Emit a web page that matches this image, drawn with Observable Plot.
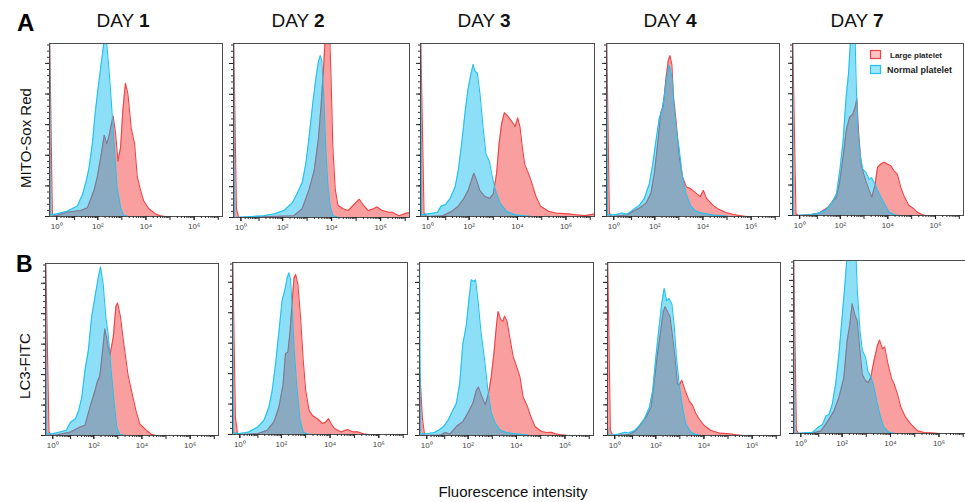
<!DOCTYPE html>
<html><head><meta charset="utf-8">
<script src="https://cdn.jsdelivr.net/npm/d3@7"></script>
<script src="https://cdn.jsdelivr.net/npm/@observablehq/plot@0.6"></script>
<style>
html,body{margin:0;padding:0;background:#fff;}
body{width:965px;height:502px;overflow:hidden;position:relative;font-family:Arial,"Liberation Sans",sans-serif;}
#root{position:absolute;left:0;top:0;width:965px;height:502px;}
</style></head>
<body><div id="root"></div>
<script>
// ---------- texts ----------
const panelLetters = ["A", "B"];
const dayNumbers = ["1", "2", "3", "4", "7"];
const rowLabels = ["MITO-Sox Red", "LC3-FITC"];
const xAxisTitle = "Fluorescence intensity";
const seriesNames = ["Large platelet", "Normal platelet"];
const xLabelValues = [1, 1e2, 1e4, 1e6];
const xLabelText = ["10\u2070", "10\u00B2", "10\u2074", "10\u2076"];

// ---------- data: [log10 intensity, % of panel height] ----------
// Row A (MITO-Sox Red)
const largeA1 = [[-9,110],[-0.5,1],[0,0.5],[0.6,2.5],[1.0,3],[1.28,3.5],[1.56,5],[1.84,15],[1.98,23],[2.12,34],[2.27,47],[2.37,42],[2.46,46],[2.56,53],[2.64,58],[2.74,48],[2.84,32],[2.95,40],[3.04,61],[3.15,77],[3.25,71],[3.39,51],[3.53,42],[3.64,23],[3.78,15],[3.91,9],[4.12,4.5],[4.4,1.5],[4.6,0.4],[4.8,0],[7.3,0]];
const normalA1 = [[-9,110],[-1,1],[0,1.5],[0.64,3],[1.12,6],[1.36,13],[1.5,20],[1.63,28],[1.77,42],[1.9,61],[2.02,75],[2.12,86],[2.25,100],[2.37,100],[2.46,86],[2.56,67],[2.67,44],[2.8,17],[2.95,5],[3.08,0.5],[3.3,0],[7.3,0]];

const largeA2 = [[-9,110],[-0.5,5],[-0.2,0],[2.46,1],[2.8,5],[3.08,16],[3.29,27],[3.46,45],[3.57,64],[3.68,88],[3.73,101],[3.8,130],[3.9,130],[3.93,101],[3.98,79],[4.05,41],[4.15,16],[4.26,7],[4.47,5],[4.67,4],[4.88,7],[5.13,10.5],[5.3,7],[5.5,4],[5.71,5],[5.85,6],[6.06,4],[6.33,3],[6.47,3],[6.75,1],[7.03,2.5],[7.3,3]];
const normalA2 = [[-9,110],[-1,0],[1.2,1],[1.63,2],[2.05,4],[2.4,8.5],[2.6,14],[2.8,20],[2.95,31],[3.08,46],[3.22,64],[3.36,80],[3.47,90],[3.54,93],[3.6,90],[3.68,70],[3.76,40],[3.85,18],[3.95,6],[4.05,1],[4.3,0],[7.3,0]];

const largeA3 = [[-9,110],[-0.4,2],[-0.1,0],[0.86,0.4],[1.27,3],[1.55,6],[1.76,10],[1.96,15],[2.1,21],[2.2,25],[2.31,21],[2.45,15],[2.66,11.5],[2.86,10.5],[3.0,13],[3.14,25],[3.24,42],[3.35,54],[3.46,60],[3.6,58],[3.76,55],[3.9,52],[4.01,57],[4.1,52],[4.2,40],[4.3,30],[4.45,25],[4.6,19],[4.75,12],[4.95,6],[5.28,3],[5.56,2],[6.1,1.5],[6.4,1],[6.8,0.5],[7.1,1.3],[7.3,1.5]];
const normalA3 = [[-9,110],[-1,1],[0,1.5],[0.4,2],[0.6,2.3],[0.79,6],[1.0,7],[1.2,10.5],[1.41,17],[1.55,27],[1.69,42],[1.83,60],[1.96,74],[2.07,82],[2.17,88],[2.24,84],[2.34,83],[2.45,71],[2.59,50],[2.7,36],[2.84,32],[2.93,25],[3.07,16],[3.28,7.7],[3.55,3],[3.9,1],[4.3,0.4],[4.6,0],[7.3,0]];

const largeA4 = [[-9,110],[-0.5,2],[-0.2,0],[0.8,1],[1.08,3],[1.36,5],[1.63,7.7],[1.84,13.5],[1.98,25],[2.12,42],[2.25,60],[2.35,63.5],[2.46,79],[2.56,90],[2.63,93],[2.71,88],[2.78,69],[2.88,56],[3.02,34],[3.15,23],[3.32,17],[3.5,16],[3.71,13.5],[3.89,11.5],[4.02,15],[4.15,10.5],[4.4,6.7],[4.67,4],[4.95,2.3],[5.23,1.3],[5.5,0.6],[5.8,0],[7.3,0]];
const normalA4 = [[-9,110],[-1,1],[0.1,1],[0.53,2],[0.8,1.3],[1.08,4],[1.36,6.7],[1.56,10.5],[1.77,19],[1.91,30],[2.05,44],[2.19,57],[2.3,61.5],[2.39,69],[2.49,79],[2.6,87.5],[2.71,81],[2.81,61.5],[2.9,50],[3.02,38.5],[3.15,23],[3.29,13.5],[3.5,6],[3.71,3],[3.98,2],[4.4,0.8],[4.8,0.4],[5.1,0],[7.3,0]];

const largeA5 = [[-9,110],[-0.4,1],[-0.1,0],[0.66,0.4],[1.08,1.4],[1.5,5],[1.7,8.7],[1.84,10.7],[1.98,20],[2.12,34],[2.25,49],[2.39,57],[2.53,59],[2.63,63],[2.7,68],[2.77,49],[2.88,30],[2.99,24],[3.08,20],[3.22,14.6],[3.33,10.7],[3.46,17.5],[3.57,28],[3.71,30],[3.85,31],[3.98,30],[4.12,29],[4.26,26],[4.4,24],[4.54,16.5],[4.67,11.7],[4.88,6],[5.09,4],[5.23,2],[5.44,0.4],[5.6,0],[7.3,0]];
const normalA5 = [[-9,110],[-1,0],[0.66,0.4],[1.08,1.4],[1.36,3],[1.63,7],[1.84,12.6],[1.98,26],[2.12,43],[2.25,69],[2.35,82.5],[2.43,101],[2.5,130],[2.58,130],[2.63,101],[2.67,78],[2.74,49],[2.85,34],[2.95,27],[3.08,25],[3.22,21],[3.32,22],[3.46,18],[3.64,12.6],[3.85,7],[4.05,2],[4.26,0.4],[4.5,0],[7.3,0]];

// Row B (LC3-FITC)
const largeB1 = [[-9,110],[-0.4,2],[-0.1,0],[0.3,0.4],[1.0,2],[1.42,5],[1.63,6],[1.84,16.5],[2.05,26],[2.14,31],[2.25,34.6],[2.37,49.5],[2.46,62],[2.56,55],[2.67,46.6],[2.81,57],[2.92,75],[2.99,77],[3.11,69],[3.25,53],[3.43,34.6],[3.57,26],[3.75,14.6],[3.91,6.8],[4.19,3],[4.4,0.6],[4.6,0],[7.3,0]];
const normalB1 = [[-9,110],[-1,1],[0,1],[0.47,2],[0.8,3],[1.0,7.8],[1.22,9.7],[1.36,14.6],[1.49,22],[1.63,38],[1.77,49.5],[1.91,69],[2.05,80.6],[2.19,92],[2.28,98],[2.39,88],[2.5,69],[2.6,59],[2.71,40],[2.84,20],[2.95,5],[3.08,0.6],[3.3,0],[7.3,0]];

const largeB2 = [[-9,110],[-0.5,10],[-0.2,0],[1.0,0.5],[1.41,2.5],[1.69,7.3],[1.9,16],[2.07,29],[2.17,47],[2.27,48],[2.35,58.7],[2.45,77.8],[2.52,91],[2.59,93],[2.68,87.5],[2.79,68],[2.9,43],[3.0,25.7],[3.14,14],[3.28,11],[3.49,9],[3.69,6.4],[3.83,7.3],[3.94,9.2],[4.04,6.4],[4.18,3.5],[4.45,1.5],[4.73,2.9],[4.94,1.5],[5.15,1.5],[5.42,0.2],[5.6,0],[7.3,0]];
const normalB2 = [[-9,110],[-1,1],[0,0.6],[0.55,1.5],[1.0,4.4],[1.27,8.3],[1.48,16],[1.62,25.7],[1.76,41],[1.9,60],[2.03,77.8],[2.17,85.5],[2.24,91],[2.31,94],[2.38,90],[2.45,72],[2.52,51],[2.63,29],[2.77,8.3],[2.9,1.5],[3.07,0.2],[3.3,0],[7.3,0]];

const largeB3 = [[-9,40],[-0.5,10],[-0.2,0],[0.8,0.2],[1.02,1.7],[1.23,0.8],[1.51,5.2],[1.78,8],[1.99,13],[2.2,18.7],[2.34,26],[2.43,28],[2.57,22.5],[2.71,17.7],[2.85,24.5],[2.96,34],[3.07,47.6],[3.17,63],[3.24,71.7],[3.35,67],[3.44,66],[3.51,69],[3.61,66],[3.72,57],[3.86,45.7],[4.0,40],[4.14,34],[4.27,22.5],[4.45,16.8],[4.59,11],[4.76,5.2],[5.03,2.3],[5.24,1.7],[5.45,1.9],[5.59,1],[5.86,0.4],[6.1,0],[7.3,0]];
const normalB3 = [[-9,110],[-1,1],[0,1],[0.5,1.7],[0.75,3.3],[0.95,5.2],[1.16,9],[1.3,13],[1.51,18.7],[1.65,30],[1.78,53],[1.92,63],[2.03,78],[2.13,90],[2.24,89],[2.31,90],[2.41,78],[2.54,59],[2.68,44],[2.82,26],[2.96,13],[3.13,7],[3.31,3.3],[3.58,1.7],[3.93,1],[4.34,0.4],[4.6,0],[7.3,0]];

const largeB4 = [[-9,110],[-0.5,3],[-0.2,0],[0.85,0.5],[1.15,2.9],[1.38,6.8],[1.59,10.6],[1.8,16.4],[1.94,32],[2.07,47],[2.21,61],[2.31,71.6],[2.39,74.5],[2.49,71.6],[2.59,68.7],[2.7,57],[2.81,43.5],[2.9,30],[2.97,29],[3.08,32],[3.22,26],[3.39,20],[3.53,17.4],[3.67,12.6],[3.8,9.7],[4.01,5.8],[4.29,2.9],[4.63,1.4],[5.05,1],[5.33,0.4],[5.6,0],[7.3,0]];
const normalB4 = [[-9,5],[-1,0],[0.16,0.6],[0.64,1.9],[0.8,1.4],[1.1,2.9],[1.31,5.8],[1.52,9.7],[1.73,16.4],[1.87,26],[2.0,45],[2.14,63],[2.25,76.4],[2.35,85],[2.45,78],[2.56,79],[2.67,76],[2.77,63],[2.86,45],[2.97,30],[3.11,16.4],[3.25,6.8],[3.46,1.9],[3.67,0.6],[3.9,0],[7.3,0]];

const largeB5 = [[-9,110],[-0.5,2],[-0.2,0],[0.7,0.2],[1.1,1.5],[1.31,5.4],[1.45,8.3],[1.66,13],[1.87,21],[2.07,32],[2.21,53.5],[2.32,63],[2.42,75],[2.52,69],[2.63,65],[2.74,48],[2.84,34],[2.97,30.5],[3.07,29.5],[3.18,32],[3.32,42],[3.46,50.8],[3.55,54],[3.67,49],[3.76,50],[3.9,40],[4.04,32],[4.15,28.6],[4.29,22.8],[4.43,15],[4.63,9.3],[4.84,5.4],[5.12,1.5],[5.39,0.6],[5.8,0.2],[6.0,0],[7.3,0]];
const normalB5 = [[-9,110],[-1,0],[0.5,0.5],[0.7,0.6],[0.97,3.5],[1.18,5.4],[1.31,10],[1.45,11],[1.59,17],[1.73,28.6],[1.87,46],[2.0,67],[2.12,86.5],[2.2,101],[2.25,130],[2.5,130],[2.58,101],[2.63,82.6],[2.74,59.5],[2.84,48],[2.97,44],[3.07,36],[3.18,33],[3.29,28.6],[3.46,17],[3.6,9],[3.73,3.5],[3.94,0.6],[4.2,0],[7.3,0]];

const rowA = [[largeA1, normalA1], [largeA2, normalA2], [largeA3, normalA3], [largeA4, normalA4], [largeA5, normalA5]];
const rowB = [[largeB1, normalB1], [largeB2, normalB2], [largeB3, normalB3], [largeB4, normalB4], [largeB5, normalB5]];

// ---------- layout ----------
const XMAX = 1.5e7;
const framesA = [{l:49,r:222,t:43,b:216},{l:233,r:409,t:43,b:217},{l:420,r:594,t:43,b:216},{l:606,r:779,t:43,b:216},{l:792,r:963,t:43,b:215}];
const framesB = [{l:45,r:218,t:263,b:435},{l:232,r:407,t:262,b:434},{l:419,r:593,t:262,b:435},{l:607,r:780,t:262,b:435},{l:793,r:967,t:260,b:433}];

const xMajor = d3.range(0, 8).map(k => 10 ** k);
const xMinor = d3.range(0, 7).flatMap(k => d3.range(2, 10).map(m => m * 10 ** k));
const yMajor = d3.range(0, 100, 17.7);
const yMinor = d3.range(0, 100, 3.54);

const root = document.getElementById("root");

function drawPanel(large, normal, f) {
  const ml = 10, mr = 4, mt = 4, mb = 26;
  const W = f.r - f.l, H = f.b - f.t;
  const L = large.map(([e, v]) => ({x: 10 ** e, y: v}));
  const N = normal.map(([e, v]) => ({x: 10 ** e, y: v}));
  const svg = Plot.plot({
    width: W + ml + mr, height: H + mt + mb,
    marginLeft: ml, marginRight: mr, marginTop: mt, marginBottom: mb,
    style: {background: "transparent", overflow: "visible", fontFamily: "Arial, 'Liberation Sans', sans-serif"},
    x: {type: "symlog", constant: 1, domain: [0, XMAX], label: null},
    y: {domain: [0, 100], label: null},
    marks: [
      Plot.areaY(L, {x: "x", y: "y", fill: "#fa9f9f", clip: true}),
      Plot.lineY(L, {x: "x", y: "y", stroke: "#ef4245", strokeWidth: 1.1, clip: true}),
      Plot.areaY(N, {x: "x", y: "y", fill: "#00b8ea", fillOpacity: 0.45, clip: true}),
      Plot.lineY(N, {x: "x", y: "y", stroke: "#1fc3ef", strokeWidth: 1.1, clip: true}),
      Plot.frame({stroke: "#4d4d4d", strokeWidth: 1}),
      Plot.axisX({ticks: xMinor, tickSize: 2, tickFormat: () => "", stroke: "#333"}),
      Plot.axisX({ticks: xMajor, tickSize: 4, tickFormat: () => "", stroke: "#222"}),
      Plot.axisX({ticks: xLabelValues, tickSize: 4, tickPadding: 3, fontSize: 8, fill: "#444", stroke: "#222",
        tickFormat: d => xLabelText[xLabelValues.indexOf(d)]}),
      Plot.axisY({ticks: yMinor, tickSize: 2, tickFormat: () => "", stroke: "#333"}),
      Plot.axisY({ticks: yMajor, tickSize: 4, tickFormat: () => "", stroke: "#222"})
    ]
  });
  svg.style.position = "absolute";
  svg.style.left = (f.l - ml) + "px";
  svg.style.top = (f.t - mt) + "px";
  svg.style.maxWidth = "none";
  root.appendChild(svg);
}

rowA.forEach(([lg, nm], i) => drawPanel(lg, nm, framesA[i]));
rowB.forEach(([lg, nm], i) => drawPanel(lg, nm, framesB[i]));

// ---------- overlay texts ----------
const ov = d3.select(root).append("svg")
  .attr("width", 965).attr("height", 502)
  .style("position", "absolute").style("left", "0px").style("top", "0px")
  .style("font-family", "Arial, 'Liberation Sans', sans-serif");

const letterPos = [[17, 31, 24], [16, 272, 23]];
panelLetters.forEach((t, i) => ov.append("text").attr("x", letterPos[i][0]).attr("y", letterPos[i][1])
  .attr("font-size", letterPos[i][2]).attr("font-weight", "bold").attr("fill", "#000").text(t));

const dayCenters = [123, 298, 484, 670, 857];
dayNumbers.forEach((n, i) => {
  const t = ov.append("text").attr("x", dayCenters[i]).attr("y", 27).attr("text-anchor", "middle")
    .attr("font-size", 19).attr("fill", "#111");
  t.append("tspan").text("DAY ");
  t.append("tspan").attr("font-weight", "bold").text(n);
});

const rowLabelPos = [[31, 138], [30, 366]];
rowLabels.forEach((t, i) => ov.append("text")
  .attr("transform", `translate(${rowLabelPos[i][0]},${rowLabelPos[i][1]}) rotate(-90)`)
  .attr("text-anchor", "middle").attr("font-size", 15).attr("fill", "#111").text(t));

ov.append("text").attr("x", 513).attr("y", 497).attr("text-anchor", "middle")
  .attr("font-size", 15).attr("fill", "#111").text(xAxisTitle);

// legend (Day 7, row A)
const legendItems = [
  {name: seriesNames[0], fill: "#fcc4c4", stroke: "#ef4245", y: 50, tx: 890, size: 8},
  {name: seriesNames[1], fill: "#9fe6fa", stroke: "#1fc3ef", y: 65, tx: 887, size: 9}
];
legendItems.forEach(d => {
  ov.append("rect").attr("x", 870.5).attr("y", d.y + 0.5).attr("width", 10).attr("height", 8)
    .attr("fill", d.fill).attr("stroke", d.stroke).attr("stroke-width", 1.2);
  ov.append("text").attr("x", d.tx).attr("y", d.y + 7.5).attr("font-size", d.size)
    .attr("font-weight", "bold").attr("fill", "#222").text(d.name);
});
</script>
</body></html>
